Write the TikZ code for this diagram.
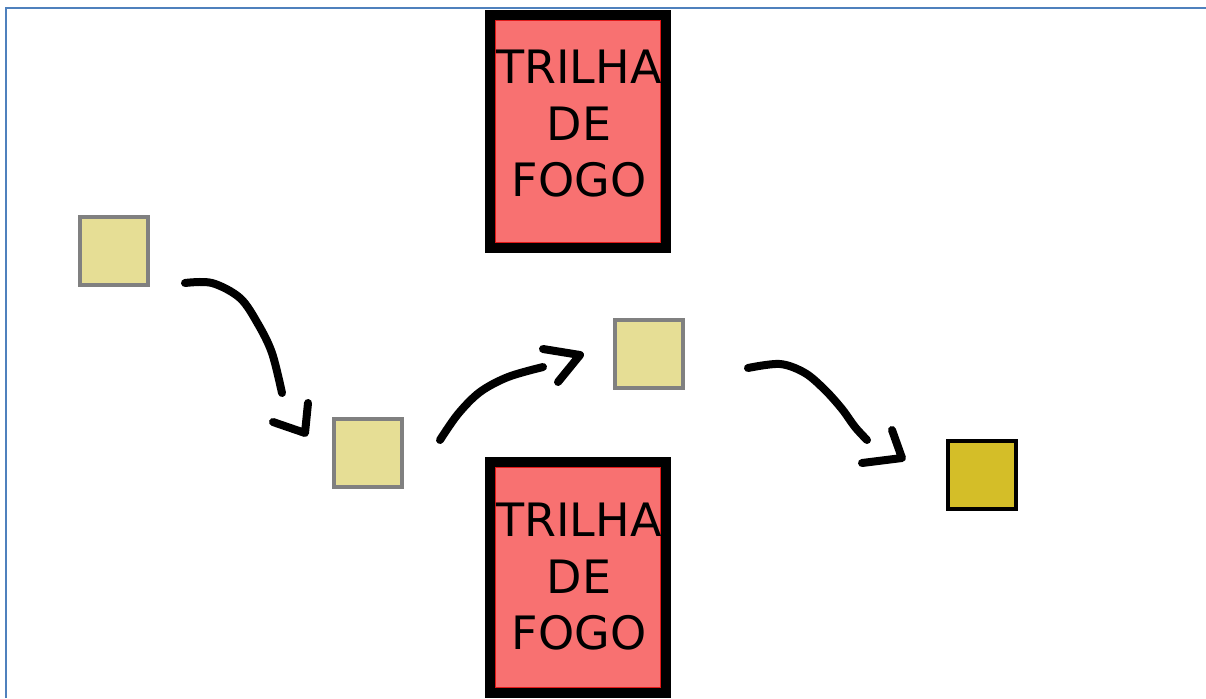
\documentclass[tikz,border=0pt]{standalone}
\usepackage{fontspec}
\newfontfamily\firefont{DejaVu Sans}
\definecolor{firered}{RGB}{248,113,113}
\definecolor{emberline}{RGB}{225,25,25}
\definecolor{sand}{RGB}{230,222,149}
\definecolor{sandedge}{RGB}{128,128,128}
\definecolor{goldfill}{RGB}{212,190,40}
\definecolor{frameblue}{RGB}{79,129,189}
\begin{document}
\begin{tikzpicture}[x=1pt,y=-1pt,
  firebox/.style={draw=black, line width=10pt, fill=firered,
    minimum width=176pt, minimum height=233pt, inner sep=0pt, outer sep=0pt},
  firetext/.style={font=\firefont\fontsize{46}{56.5}\selectfont, align=center,
    inner sep=0pt, anchor=north},
  emberedge/.style={draw=emberline, line width=1.5pt},
  token/.style={draw=sandedge, fill=sand, line width=4pt, minimum size=68pt,
    inner sep=0pt, outer sep=0pt},
  goal/.style={draw=black, fill=goldfill, line width=4pt, minimum size=68pt,
    inner sep=0pt, outer sep=0pt},
  hand/.style={line width=8pt, line cap=round, line join=round}]
\useasboundingbox (0,0) rectangle (1206,698);
\fill[white] (0,0) rectangle (1206,698);

% page frame
\draw[frameblue, line width=2pt] (6,698) -- (6,8) -- (1206,8);

% fire trails
\node[firebox] (fireTop) at (578,131.5) {};
\draw[emberedge] ([shift={(5.5,5.5)}]fireTop.north west) rectangle ([shift={(-5.5,-5.5)}]fireTop.south east);
\node[firetext] (fireTopText) at (579,50) {TRILHA\\DE\\FOGO};

\node[firebox, minimum height=231pt] (fireBottom) at (578,577.5) {};
\draw[emberedge] ([shift={(5.5,5.5)}]fireBottom.north west) rectangle ([shift={(-5.5,-5.5)}]fireBottom.south east);
\node[firetext] (fireBottomText) at (579,503) {TRILHA\\DE\\FOGO};

% squares
\node[token] (sqA) at (114,251) {};
\node[token] (sqB) at (367.5,452.5) {};
\node[token] (sqC) at (649,353.5) {};
\node[goal]  (sqD) at (982,475) {};

% hand-drawn arrows
\coordinate (arrAstart) at (185,283);
\coordinate (arrAend) at (282,393);
\draw[hand] plot[smooth, tension=0.55] coordinates {(arrAstart) (212,283) (240,298) (258,324) (272,353) (arrAend)};
\draw[hand] (273,422) -- (305,433) -- (308,403);

\coordinate (arrBstart) at (440,440);
\coordinate (arrBend) at (543,367);
\draw[hand] plot[smooth, tension=0.55] coordinates {(arrBstart) (458,414) (480,392) (508,377) (arrBend)};
\draw[hand] (543,349) -- (580,355) -- (558,382);

\coordinate (arrCstart) at (748,368);
\coordinate (arrCend) at (867,440);
\draw[hand] plot[smooth, tension=0.55] coordinates {(arrCstart) (780,364) (805,373) (825,390) (842,409) (855,427) (arrCend)};
\draw[hand] (862,463) -- (902,458) -- (892,430);
\end{tikzpicture}
\end{document}
